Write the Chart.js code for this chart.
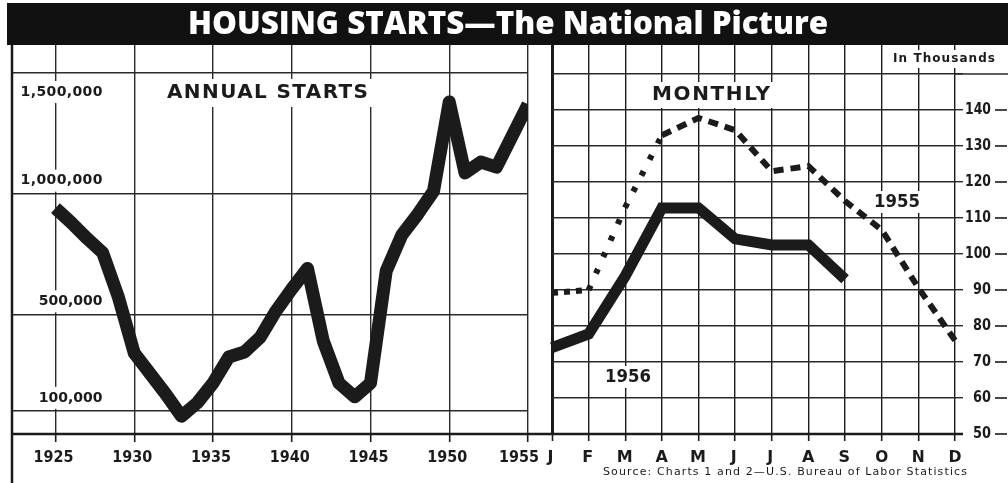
<!DOCTYPE html>
<html><head><meta charset="utf-8">
<script src="https://cdn.jsdelivr.net/npm/chart.js@4.4.0/dist/chart.umd.min.js"></script>
<style>
html,body{margin:0;padding:0;background:#fff;}
#wrap{position:relative;width:1008px;height:483px;overflow:hidden;}
canvas{position:absolute;left:0;top:0;}
</style></head><body>
<div id="wrap"><canvas id="c1" width="1008" height="483"></canvas><canvas id="c2" width="1008" height="483"></canvas></div>
<script>
// ---------- data ----------
const years = [1925,1926,1927,1928,1929,1930,1931,1932,1933,1934,1935,1936,1937,1938,1939,1940,1941,1942,1943,1944,1945,1946,1947,1948,1949,1950,1951,1952,1953,1954,1955];
const annualStarts = [940000,880000,815000,755000,570000,340000,255000,170000,78000,133000,215000,323000,344000,405000,514000,605000,690000,390000,215000,158000,215000,680000,830000,915000,1010000,1380000,1086000,1131000,1110000,1240000,1370000];
const yearTicks = [1925,1930,1935,1940,1945,1950,1955];
const yearTickLabels = ['1925','1930','1935','1940','1945','1950','1955'];
const annualTicks = [100000,500000,1000000,1500000];
const annualTickLabels = ['100,000','500,000','1,000,000','1,500,000'];

const months = ['J','F','M','A','M','J','J','A','S','O','N','D'];
const starts1956 = [74,77.8,93.9,112.8,112.8,104.2,102.5,102.5,93];
const starts1955 = [89.2,90,113,133,137.8,134.4,123,124.4,114.7,106.7,90.6,76];
const monthlyTicks = [50,60,70,80,90,100,110,120,130,140,150];
const monthlyTickLabels = ['50','60','70','80','90','100','110','120','130','140'];

const titleText = 'HOUSING STARTS\u2014The National Picture';
const annualLabel = 'ANNUAL STARTS';
const monthlyLabel = 'MONTHLY';
const unitLabel = 'In Thousands';
const series1955Label = '1955';
const series1956Label = '1956';
const sourceText = 'Source: Charts 1 and 2\u2014U.S. Bureau of Labor Statistics';

// ---------- helpers ----------
const INK = '#1b1b1b';
const GRID = '#2a2a2a';
const BOLD = 'bold ';
const FACE = 'px "DejaVu Sans"';
function fitText(ctx, text, x, y, width, align, font, color, box) {
  ctx.save();
  ctx.font = font;
  ctx.textBaseline = 'middle';
  ctx.textAlign = 'left';
  const w = ctx.measureText(text).width;
  let start = align === 'center' ? x - width / 2 : align === 'right' ? x - width : x;
  if (box) {
    ctx.fillStyle = '#fff';
    ctx.fillRect(start - box[0], y - box[1], width + 2 * box[0], 2 * box[1]);
  }
  ctx.fillStyle = color;
  if (w > width) {
    ctx.translate(start, y);
    ctx.scale(width / w, 1);
    ctx.fillText(text, 0, 0);
  } else {
    const n = text.length;
    const ls = n > 1 ? (width - w) / (n - 1) : 0;
    if ('letterSpacing' in ctx && n > 1) {
      ctx.letterSpacing = ls + 'px';
      ctx.fillText(text, start, y);
    } else {
      let cx = start;
      for (const ch of text) { ctx.fillText(ch, cx, y); cx += ctx.measureText(ch).width + ls; }
    }
  }
  ctx.restore();
}
function line(ctx, x1, y1, x2, y2, w, c) {
  ctx.save(); ctx.beginPath(); ctx.moveTo(x1, y1); ctx.lineTo(x2, y2);
  ctx.lineWidth = w; ctx.strokeStyle = c || INK; ctx.stroke(); ctx.restore();
}

// ---------- chart 1 : annual ----------
const annualPlugin = {
  id: 'annualDeco',
  afterDraw(chart) {
    const ctx = chart.ctx, xs = chart.scales.x, ys = chart.scales.y, a = chart.chartArea;
    line(ctx, a.left, 45, a.left, 483, 2.5);
    const rightX = xs.getPixelForValue(1925) + 47;
    annualTicks.forEach((v, i) => {
      const py = ys.getPixelForValue(v);
      const ly = v === 1500000 ? py + 19 : py - 13;
      const txt = annualTickLabels[i];
      const w = txt.length * 9.1;
      fitText(ctx, txt, rightX, ly, w, 'right', BOLD + '14' + FACE, INK, [2, 11]);
    });
    yearTicks.forEach((v, i) => {
      const shift = i === yearTicks.length - 1 ? -9 : -2;
      fitText(ctx, yearTickLabels[i], xs.getPixelForValue(v) + shift, 458, 40, 'center', BOLD + '16' + FACE, INK);
    });
    fitText(ctx, annualLabel, 267.5, 93, 201, 'center', BOLD + '20' + FACE, INK, [4, 14]);
  }
};
const chart1 = new Chart(document.getElementById('c1'), {
  type: 'line',
  data: { datasets: [{
    data: years.map((y, i) => ({ x: y, y: annualStarts[i] })),
    borderColor: INK, borderWidth: 13, pointRadius: 0, tension: 0,
    borderJoinStyle: 'round', borderCapStyle: 'butt', fill: false
  }]},
  options: {
    responsive: false, animation: false, devicePixelRatio: 1,
    layout: { padding: { left: 12, right: 1008 - 528, top: 45, bottom: 483 - 435 } },
    plugins: { legend: { display: false }, tooltip: { enabled: false } },
    scales: {
      x: { type: 'linear', min: 1922.24, max: 1955,
        afterBuildTicks: s => { s.ticks = yearTicks.map(v => ({ value: v })); },
        afterFit: s => { s.height = 0; },
        ticks: { display: false },
        grid: { color: GRID, lineWidth: 1.4, drawTicks: true, tickLength: 7, tickColor: INK, tickWidth: 1.6 },
        border: { display: false } },
      y: { type: 'linear', min: 0, max: 1616000,
        afterBuildTicks: s => { s.ticks = annualTicks.map(v => ({ value: v })); },
        afterFit: s => { s.width = 0; },
        ticks: { display: false },
        grid: { color: GRID, lineWidth: 1.4, drawTicks: false },
        border: { display: false } }
    }
  },
  plugins: [annualPlugin]
});

// ---------- chart 2 : monthly ----------
const monthlyPlugin = {
  id: 'monthlyDeco',
  afterDraw(chart) {
    const ctx = chart.ctx, xs = chart.scales.x, ys = chart.scales.y, a = chart.chartArea;
    const c1 = chart1.chartArea;
    const by = ys.getPixelForValue(50);
    line(ctx, c1.left, by, a.right + 8, by, 2.6);
    const ty = ys.getPixelForValue(150);
    line(ctx, a.right, ty, 1008, ty, 1.4, GRID);
    monthlyTickLabels.forEach((t, i) => {
      const py = ys.getPixelForValue(monthlyTicks[i]);
      const w = t.length === 3 ? 26 : 18;
      fitText(ctx, t, a.right + 36, py, w, 'right', BOLD + '15' + FACE, INK);
      line(ctx, a.right + 40, py, a.right + 52, py, 1.6);
    });
    months.forEach((m, i) => {
      const w = (m === 'M') ? 17 : (m === 'J' ? 9 : 13);
      fitText(ctx, m, xs.getPixelForValue(i), 458, w, 'center', BOLD + '16' + FACE, INK);
    });
    fitText(ctx, unitLabel, 995, 59, 102, 'right', BOLD + '12' + FACE, INK, [3, 9]);
    fitText(ctx, monthlyLabel, 711, 95, 118, 'center', BOLD + '20' + FACE, INK, [4, 13]);
    fitText(ctx, series1955Label, 897, 202, 46, 'center', BOLD + '18' + FACE, INK, [3, 11]);
    fitText(ctx, series1956Label, 628, 377, 46, 'center', BOLD + '18' + FACE, INK, [3, 11]);
    fitText(ctx, sourceText, 603, 472, 364, 'left', '11' + FACE, INK);
    ctx.save(); ctx.fillStyle = '#111'; ctx.fillRect(7, 3, 1001, 42); ctx.restore();
    fitText(ctx, titleText, 508, 25, 640, 'center', '800 32px "Open Sans"', '#fff');
  }
};
const chart2 = new Chart(document.getElementById('c2'), {
  type: 'line',
  data: { labels: months, datasets: [
    { label: '1956', data: starts1956, borderColor: INK, borderWidth: 11, pointRadius: 0,
      borderJoinStyle: 'miter', borderCapStyle: 'butt', fill: false },
    { label: '1955', data: starts1955, borderColor: INK, borderWidth: 6, pointRadius: 0,
      borderCapStyle: 'butt', fill: false,
      segment: { borderDash: c => c.p0DataIndex === 0 ? [6, 6] : (c.p0DataIndex < 3 ? [5, 13] : [10, 7]) } }
  ]},
  options: {
    responsive: false, animation: false, devicePixelRatio: 1,
    layout: { padding: { left: 552, right: 1008 - 955, top: 45, bottom: 483 - 434 } },
    plugins: { legend: { display: false }, tooltip: { enabled: false } },
    scales: {
      x: { type: 'category', offset: false,
        afterFit: s => { s.height = 0; },
        ticks: { display: false },
        grid: { color: INK, lineWidth: c => c.index === 0 ? 3 : 1.4, drawTicks: true, tickLength: 7, tickColor: INK, tickWidth: 1.6, offset: false },
        border: { display: false } },
      y: { type: 'linear', position: 'right', min: 50, max: 158.05,
        afterBuildTicks: s => { s.ticks = monthlyTicks.map(v => ({ value: v })); },
        afterFit: s => { s.width = 0; },
        ticks: { display: false },
        grid: { color: GRID, lineWidth: 1.4, drawTicks: true, tickLength: 8, tickColor: GRID },
        border: { display: false } }
    }
  },
  plugins: [monthlyPlugin]
});
</script>
</body></html>
